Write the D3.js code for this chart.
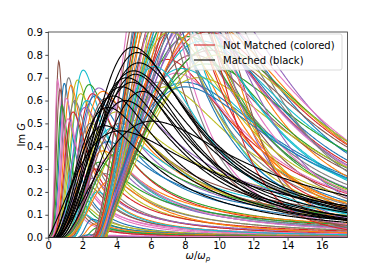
<!DOCTYPE html>
<html>
<head>
<meta charset="utf-8">
<title>Im G curves</title>
<script src="https://d3js.org/d3.v7.min.js"></script>
<style>
  body { margin: 0; background: #fff; }
  svg text { font-family: "DejaVu Sans", sans-serif; fill: #000; }
</style>
</head>
<body>
<div id="chart"></div>
<script>
// ---------------- data ----------------
// each curve: onset w_s, peak position w0 (in w/wp), peak height, rise exponent, fall exponent
const xTicks = [0, 2, 4, 6, 8, 10, 12, 14, 16];
const yTicks = [0.0, 0.1, 0.2, 0.3, 0.4, 0.5, 0.6, 0.7, 0.8, 0.9];

// colored, narrow peaks at low frequency
const earlyPeak   = [0.61, 0.55, 1.19, 1.72, 2.05, 0.94, 1.33, 2.40, 2.60, 2.97, 0.68, 1.05, 1.55, 1.90, 2.25, 2.75, 3.20, 0.80, 1.45, 2.15, 3.40, 1.15, 2.50];
const earlyHeight = [0.773, 0.69, 0.70, 0.69, 0.733, 0.675, 0.667, 0.67, 0.63, 0.655, 0.65, 0.61, 0.60, 0.63, 0.60, 0.62, 0.64, 0.58, 0.55, 0.57, 0.61, 0.52, 0.50];
const earlyOnset  = [0, 0, 0, 0, 0, 0, 0, 0, 0, 0, 0, 0, 0, 0, 0, 0, 0, 0, 0, 0, 0, 0, 0];
const earlyRise   = [4.5, 4.0, 4.0, 4.0, 4.0, 4.0, 4.0, 3.8, 3.8, 3.6, 4.0, 3.8, 3.8, 3.6, 3.6, 3.5, 3.4, 3.8, 3.6, 3.5, 3.4, 3.6, 3.4];
const earlyFall   = [2.0, 1.9, 1.7, 1.6, 1.5, 1.8, 1.7, 1.4, 1.5, 1.3, 1.9, 1.7, 1.6, 1.5, 1.4, 1.3, 1.3, 1.8, 1.5, 1.4, 1.2, 1.6, 1.4];

// colored, low peaks with long tails
const midPeak   = [4.0, 3.8, 3.5, 3.2, 3.0, 2.8, 2.6, 2.5, 2.4, 2.3, 2.3, 2.2, 2.6, 2.8, 3.0, 3.2, 4.5, 4.2, 3.6, 3.3, 4.8, 2.9, 2.4, 3.7, 4.4];
const midHeight = [0.55, 0.48, 0.42, 0.38, 0.33, 0.30, 0.26, 0.22, 0.19, 0.16, 0.13, 0.10, 0.08, 0.06, 0.045, 0.03, 0.60, 0.50, 0.35, 0.28, 0.45, 0.20, 0.012, 0.25, 0.38];
const midOnset  = [0.8, 0.8, 0.9, 1.0, 1.0, 1.1, 1.2, 1.2, 1.3, 1.3, 1.3, 1.3, 1.5, 1.6, 1.8, 2.0, 0.8, 0.8, 0.9, 1.0, 0.9, 1.2, 1.5, 0.9, 0.8];
const midRise   = [2.0, 2.0, 2.2, 2.4, 2.4, 2.6, 3.0, 3.0, 3.5, 3.5, 3.5, 3.5, 3.5, 3.0, 3.0, 3.0, 2.0, 2.0, 2.2, 2.4, 2.0, 2.8, 3.0, 2.2, 2.0];
const midFall   = [1.0, 1.1, 1.0, 1.1, 1.0, 1.2, 1.1, 1.2, 1.0, 1.3, 1.1, 1.2, 1.0, 1.0, 1.0, 1.0, 1.3, 1.4, 1.5, 1.3, 1.6, 1.4, 1.0, 1.7, 1.2];

// colored, main peaks around w0 = 6 .. 10
const mainOnset  = [3.0, 2.8, 3.1, 2.9, 3.2, 2.7, 3.2, 3.0, 2.8, 3.3, 3.1, 2.9, 3.2, 3.0, 2.8, 3.2, 3.1, 2.7, 3.3, 3.0,
                    2.9, 3.4, 3.2, 3.1, 2.8, 3.3, 3.2, 3.0, 3.4, 3.2, 3.3, 3.2, 3.1, 2.9, 2.8, 3.0, 2.7, 3.1, 2.8, 2.6,
                    3.0, 3.1, 2.9, 3.2, 3.3, 3.4, 2.7, 2.9, 2.6, 3.0, 3.2, 3.4, 3.1, 3.0, 2.9];
const mainPeak   = [6.0, 6.3, 6.5, 6.6, 6.8, 7.0, 7.0, 7.2, 7.3, 7.5, 7.5, 7.6, 7.8, 8.0, 8.0, 8.2, 8.3, 8.0, 8.5, 8.5,
                    8.6, 8.8, 9.0, 9.0, 8.4, 9.2, 9.3, 9.4, 9.5, 9.6, 6.4, 6.9, 7.8, 6.2, 6.8, 7.4, 8.1, 8.7, 9.2, 5.9,
                    6.4, 7.1, 7.7, 8.4, 9.4, 9.8, 6.7, 8.9, 5.7, 7.5, 9.0, 10.0, 6.2, 8.0, 7.2];
const mainHeight = [1.20, 1.10, 1.30, 0.95, 1.05, 1.20, 0.78, 1.00, 1.15, 0.72, 0.92, 1.28, 1.05, 0.68, 1.18, 0.88, 1.00, 1.22, 0.80, 0.95,
                    1.10, 0.70, 0.86, 1.02, 1.25, 0.76, 0.90, 1.08, 0.82, 0.95, 0.68, 0.66, 0.74, 1.15, 1.20, 0.98, 1.12, 0.92, 1.05, 1.35,
                    1.00, 0.90, 1.06, 0.98, 0.94, 0.84, 1.30, 1.00, 1.10, 1.25, 1.15, 0.80, 0.75, 0.66, 1.40];
const mainRise   = [1.4, 1.3, 1.5, 1.2, 1.3, 1.2, 1.0, 1.2, 1.3, 1.0, 1.1, 1.5, 1.2, 0.9, 1.3, 1.1, 1.2, 1.3, 1.0, 1.1,
                    1.2, 0.9, 1.0, 1.1, 1.3, 0.9, 1.0, 1.1, 0.9, 1.0, 1.0, 0.9, 1.0, 1.3, 1.3, 1.2, 1.3, 1.1, 1.2, 1.5,
                    1.2, 1.1, 1.2, 1.1, 1.0, 0.9, 1.4, 1.1, 1.4, 1.4, 1.2, 0.9, 1.0, 0.9, 1.5];
const mainFall   = [2.6, 2.2, 2.4, 2.0, 2.1, 2.3, 1.8, 2.0, 2.5, 1.9, 2.0, 3.0, 2.1, 1.8, 2.4, 1.9, 2.0, 4.0, 2.0, 2.2,
                    2.5, 1.9, 2.0, 2.3, 4.5, 1.9, 2.1, 2.5, 2.1, 2.3, 1.8, 1.7, 1.8, 2.2, 2.4, 2.1, 5.0, 2.2, 6.0, 2.8,
                    2.0, 1.9, 2.2, 2.0, 2.2, 2.2, 2.6, 3.5, 2.6, 2.4, 2.8, 2.2, 2.0, 1.8, 2.8];

// nearly flat curves along the bottom
const flatPeak   = [2.5, 3.0, 2.2, 3.5];
const flatHeight = [0.004, 0.007, 0.002, 0.010];
const flatOnset  = [1.5, 1.5, 1.5, 1.5];
const flatRise   = [3.0, 3.0, 3.0, 3.0];
const flatFall   = [0.8, 0.8, 0.8, 0.8];

// black (matched) curves
const blackPeak   = [4.97, 5.20, 5.30, 5.00, 5.10, 4.60, 4.90, 4.30, 5.50, 3.80, 4.50, 3.50, 6.10, 4.20, 3.30];
const blackHeight = [0.834, 0.81, 0.765, 0.73, 0.715, 0.70, 0.68, 0.66, 0.64, 0.62, 0.60, 0.57, 0.51, 0.467, 0.49];
const blackOnset  = [0.6, 0.7, 0.6, 0.5, 0.7, 0.5, 0.6, 0.4, 0.8, 0.4, 0.5, 0.3, 0.5, 0.0, 0.3];
const blackRise   = [1.5, 1.6, 1.5, 1.4, 1.5, 1.4, 1.4, 1.4, 1.5, 1.4, 1.3, 1.3, 1.3, 1.1, 1.3];
const blackFall   = [2.0, 2.1, 2.0, 2.0, 2.2, 1.9, 2.3, 1.9, 2.4, 1.8, 2.0, 1.7, 1.6, 1.4, 1.6];

const legendLabels = ["Not Matched (colored)", "Matched (black)"];
const palette = ["#1f77b4", "#ff7f0e", "#2ca02c", "#d62728", "#9467bd",
                 "#8c564b", "#e377c2", "#7f7f7f", "#bcbd22", "#17becf"];

// ---------------- layout ----------------
const W = 386, H = 267;
const margin = {left: 48.3, right: 38.6, top: 32, bottom: 29.4};

const svg = d3.select("#chart").append("svg")
    .attr("width", W).attr("height", H);

const x = d3.scaleLinear().domain([0, 17.5]).range([margin.left, W - margin.right]);
const y = d3.scaleLinear().domain([0, 0.9]).range([H - margin.bottom, margin.top]);

// line shape: zero below onset, rises like r^p, falls like r^-q, peak value h at w0
function imG(w, c) {
    if (w <= c.s) return 0;
    const r = (w - c.s) / (c.w0 - c.s);
    return c.h * (c.p + c.q) / (c.q * Math.pow(r, -c.p) + c.p * Math.pow(r, c.q));
}

function build(onset, peak, height, rise, fall) {
    return peak.map((w0, i) => ({s: onset[i], w0: w0, h: height[i], p: rise[i], q: fall[i]}));
}

const colored = [].concat(
    build(earlyOnset, earlyPeak, earlyHeight, earlyRise, earlyFall),
    build(midOnset, midPeak, midHeight, midRise, midFall),
    build(flatOnset, flatPeak, flatHeight, flatRise, flatFall),
    build(mainOnset, mainPeak, mainHeight, mainRise, mainFall)
);
const black = build(blackOnset, blackPeak, blackHeight, blackRise, blackFall);

const grid = d3.range(0, 17.5001, 0.04);
const line = d3.line()
    .x(d => x(d[0]))
    .y(d => y(Math.min(d[1], 1.2)));
const pts = c => grid.map(w => [w, imG(w, c)]);

svg.append("clipPath").attr("id", "plotclip")
  .append("rect")
    .attr("x", x(0)).attr("y", y(0.9))
    .attr("width", x(17.5) - x(0)).attr("height", y(0) - y(0.9));

const plot = svg.append("g").attr("clip-path", "url(#plotclip)");

plot.selectAll(".colored")
    .data(colored)
    .join("path")
    .attr("class", "colored")
    .attr("d", c => line(pts(c)))
    .attr("fill", "none")
    .attr("stroke", (c, i) => palette[(i + 5) % 10])
    .attr("stroke-width", 1.1);

plot.selectAll(".black")
    .data(black)
    .join("path")
    .attr("class", "black")
    .attr("d", c => line(pts(c)))
    .attr("fill", "none")
    .attr("stroke", "#000")
    .attr("stroke-width", 1.1);

// ---------------- axes ----------------
const xAxis = svg.append("g")
    .attr("transform", "translate(0," + y(0) + ")")
    .call(d3.axisBottom(x).tickValues(xTicks).tickSize(3).tickPadding(1.5).tickFormat(d3.format("d")));
const yAxis = svg.append("g")
    .attr("transform", "translate(" + x(0) + ",0)")
    .call(d3.axisLeft(y).tickValues(yTicks).tickSize(3).tickPadding(2.5).tickFormat(d3.format(".1f")));
[xAxis, yAxis].forEach(a => {
    a.select(".domain").remove();
    a.selectAll("text").style("font-size", "10px").style("font-family", "DejaVu Sans");
    a.selectAll("line").attr("stroke", "#000").attr("stroke-width", 0.7);
});

// frame
svg.append("rect")
    .attr("x", x(0)).attr("y", y(0.9))
    .attr("width", x(17.5) - x(0)).attr("height", y(0) - y(0.9))
    .attr("fill", "none").attr("stroke", "#333").attr("stroke-width", 0.8);

// axis labels
svg.append("text")
    .attr("x", (x(0) + x(17.5)) / 2).attr("y", 259)
    .attr("text-anchor", "middle").style("font-size", "10px")
    .html('<tspan font-style="italic">ω</tspan>/<tspan font-style="italic">ω</tspan><tspan font-style="italic" font-size="7px" dy="2">p</tspan>');

svg.append("text")
    .attr("transform", "translate(25," + ((y(0) + y(0.9)) / 2) + ") rotate(-90)")
    .attr("text-anchor", "middle").style("font-size", "10px")
    .html('Im <tspan font-style="italic">G</tspan>');

// ---------------- legend ----------------
const lg = svg.append("g").attr("transform", "translate(190,34)");
lg.append("rect")
    .attr("width", 152).attr("height", 36).attr("rx", 2)
    .attr("fill", "#fff").attr("fill-opacity", 0.8)
    .attr("stroke", "#ccc").attr("stroke-width", 0.7);
const legendColors = ["#d62728", "#000"];
legendLabels.forEach((t, i) => {
    lg.append("line")
        .attr("x1", 4).attr("x2", 25).attr("y1", 11 + i * 15).attr("y2", 11 + i * 15)
        .attr("stroke", legendColors[i]).attr("stroke-width", 1.1);
    lg.append("text")
        .attr("x", 33).attr("y", 15 + i * 15)
        .style("font-size", "10px")
        .text(t);
});
</script>
</body>
</html>
